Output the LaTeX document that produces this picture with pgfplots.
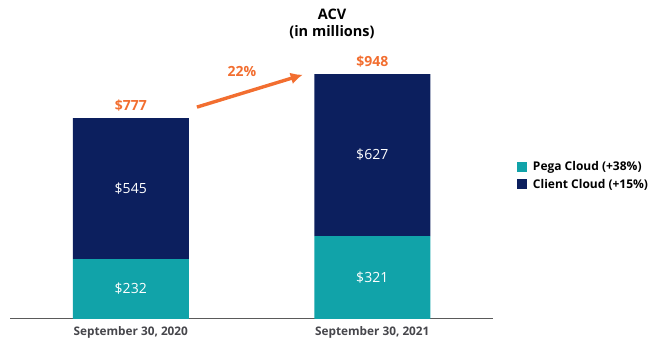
\documentclass[border=0pt]{standalone}
\usepackage{pgfplots}
\pgfplotsset{compat=1.18}
\usetikzlibrary{arrows.meta}
\usepackage{fontspec}
\setmainfont{Open Sans}
\definecolor{pegateal}{RGB}{17,163,169}
\definecolor{clientnavy}{RGB}{12,31,94}
\definecolor{accorange}{RGB}{242,110,48}
\definecolor{axgray}{RGB}{90,90,90}
\definecolor{lblgray}{RGB}{70,70,75}
\begin{document}
\begin{tikzpicture}[x=1pt,y=1pt]
\useasboundingbox (0,0) rectangle (662,353);
\begin{axis}[
  at={(10pt,34pt)}, anchor=south west,
  scale only axis, width=483pt, height=258.4pt,
  xmin=-0.5, xmax=1.5, ymin=0, ymax=1000,
  ybar stacked, bar width=116pt,
  axis x line=bottom, axis y line=none,
  x axis line style={-, axgray, line width=1pt},
  xtick={0,1}, xticklabels={{September 30, 2020},{September 30, 2021}},
  major tick length=0pt,
  xticklabel style={font=\fontsize{11.8}{13}\selectfont\bfseries, text=lblgray, yshift=-4.5pt},
  clip=false,
  legend style={at={(1.043,0.555)}, anchor=west, draw=none, fill=none,
    font=\fontsize{12}{14}\selectfont\bfseries, row sep=3pt,
    legend cell align=left,
    nodes={inner xsep=6pt}},
  legend image code/.code={\fill[#1] (0pt,-5pt) rectangle (10pt,5pt);},
]
\addplot[fill=pegateal, draw=none] coordinates {(0,232) (1,321)};
\addlegendentry{Pega Cloud (+38\%)}
\addplot[fill=clientnavy, draw=none] coordinates {(0,545) (1,627)};
\addlegendentry{Client Cloud (+15\%)}
\coordinate (l1) at (axis cs:0,116);
\coordinate (l2) at (axis cs:1,160.5);
\coordinate (l3) at (axis cs:0,504.5);
\coordinate (l4) at (axis cs:1,634.5);
\coordinate (t1) at (axis cs:0,790);
\coordinate (t2) at (axis cs:1,961);
\coordinate (a1) at (axis cs:0.274,820);
\coordinate (a2) at (axis cs:0.712,945);
\coordinate (p1) at (axis cs:0.46,956);
\end{axis}
\node[text=white, font=\fontsize{14}{16}\selectfont] at (l1) {\$232};
\node[text=white, font=\fontsize{14}{16}\selectfont] at (l2) {\$321};
\node[text=white, font=\fontsize{14}{16}\selectfont] at (l3) {\$545};
\node[text=white, font=\fontsize{14}{16}\selectfont] at (l4) {\$627};
\node[text=accorange, font=\fontsize{14}{16}\selectfont\bfseries, anchor=south] at (t1) {\$777};
\node[text=accorange, font=\fontsize{14}{16}\selectfont\bfseries, anchor=south] at (t2) {\$948};
\draw[accorange, line width=3.4pt, -{Latex[length=12pt,width=12pt]}] (a1) -- (a2);
\node[text=accorange, font=\fontsize{14}{16}\selectfont\bfseries] at (p1) {22\%};
\node[font=\fontsize{14.5}{17}\selectfont\bfseries, align=center, text=black] at (332,329) {ACV\\(in millions)};
\end{tikzpicture}
\end{document}
